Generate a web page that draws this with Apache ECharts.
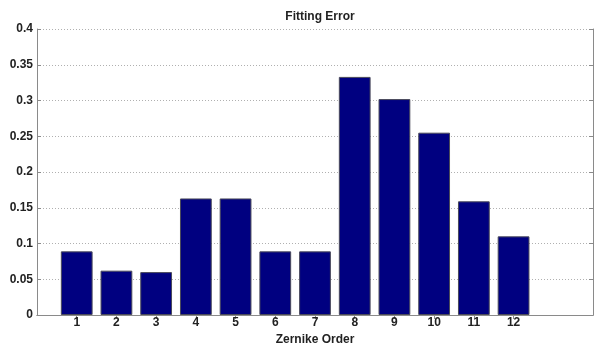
<!DOCTYPE html>
<html>
<head>
<meta charset="utf-8">
<script src="https://cdn.jsdelivr.net/npm/echarts@6/dist/echarts.min.js"></script>
<style>
html,body{margin:0;padding:0;background:#fff;}
#chart{width:608px;height:344px;}
</style>
</head>
<body>
<div id="chart"></div>
<script>
// Category slots 0..14; bars at 1..12
const categories = ['0','1','2','3','4','5','6','7','8','9','10','11','12','13','14'];
const tickLabels = ['', '1','2','3','4','5','6','7','8','9','10','11','12','',''];
const fittingError = [null, 0.089, 0.062, 0.060, 0.163, 0.163, 0.089, 0.089, 0.333, 0.302, 0.255, 0.159, 0.110, null, null];
const yTicks = [0, 0.05, 0.1, 0.15, 0.2, 0.25, 0.3, 0.35, 0.4];

const chart = echarts.init(document.getElementById('chart'));
const fontFam = '"Liberation Sans", Arial, sans-serif';
const axisColor = '#8a8a8a';
const showTick = (i) => i >= 1 && i <= 12;
chart.setOption({
  animation: false,
  title: {
    text: 'Fitting Error',
    left: 315, top: 6, textAlign: 'center',
    textStyle: {fontSize: 12, fontWeight: 'bold', color: '#222', fontFamily: fontFam}
  },
  grid: {left: 37, right: 15, top: 29, bottom: 29, containLabel: false, outerBoundsMode: 'none'},
  xAxis: [{
    type: 'category', data: categories, boundaryGap: false, position: 'bottom',
    name: 'Zernike Order', nameLocation: 'middle', nameGap: 16,
    nameTextStyle: {fontSize: 12, fontWeight: 'bold', color: '#222', fontFamily: fontFam},
    axisLine: {lineStyle: {color: axisColor, width: 1}},
    axisTick: {inside: true, length: 4, interval: showTick, lineStyle: {color: axisColor}},
    axisLabel: {interval: 0, margin: 2, fontSize: 12, fontWeight: 'bold', color: '#222', fontFamily: fontFam,
      formatter: (v, i) => tickLabels[i]},
    splitLine: {show: false}
  }, {
    type: 'category', data: categories, boundaryGap: false, position: 'top',
    axisLine: {lineStyle: {color: axisColor, width: 1}},
    axisTick: {inside: true, length: 4, interval: showTick, lineStyle: {color: axisColor}},
    axisLabel: {show: false},
    splitLine: {show: false}
  }],
  yAxis: [{
    type: 'value', min: 0, max: 0.4, interval: 0.05,
    axisLine: {show: true, lineStyle: {color: axisColor, width: 1}},
    axisTick: {show: true, inside: true, length: 4, lineStyle: {color: axisColor}},
    axisLabel: {margin: 4, fontSize: 12, fontWeight: 'bold', color: '#222', fontFamily: fontFam,
      formatter: (v) => String(+v.toFixed(2))},
    splitLine: {show: true, lineStyle: {color: '#b0b0b0', type: [1, 2], width: 1}}
  }, {
    type: 'value', min: 0, max: 0.4, interval: 0.05, position: 'right',
    axisLine: {show: true, lineStyle: {color: axisColor, width: 1}},
    axisTick: {show: true, inside: true, length: 4, lineStyle: {color: axisColor}},
    axisLabel: {show: false},
    splitLine: {show: false}
  }],
  series: [{
    type: 'bar', xAxisIndex: 0, yAxisIndex: 0,
    data: fittingError,
    barWidth: '80%',
    itemStyle: {color: '#000080', borderColor: '#4a4a5a', borderWidth: 1}
  }]
});
</script>
</body>
</html>
